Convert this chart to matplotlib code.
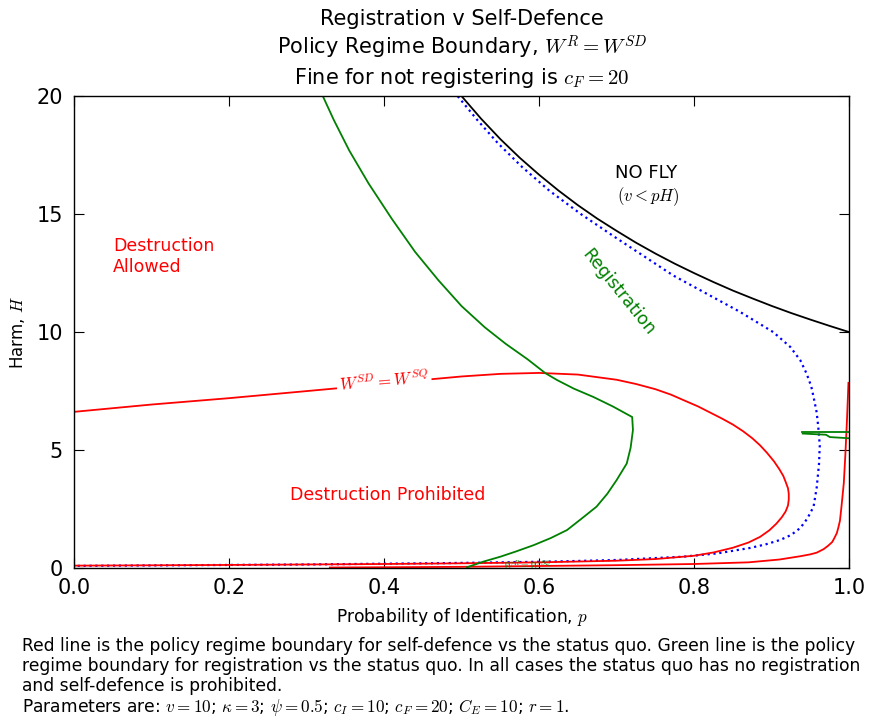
import matplotlib
matplotlib.use("Agg")
import matplotlib.pyplot as plt

plt.rcParams['mathtext.fontset'] = 'cm'
plt.rcParams['font.family'] = ['DejaVu Sans']

# No-fly boundary (v = pH)
p_nofly = [0.5, 0.525, 0.55, 0.575, 0.6, 0.625, 0.65, 0.675, 0.7, 0.725, 0.75,
           0.775, 0.8, 0.825, 0.85, 0.875, 0.9, 0.925, 0.95, 0.975, 1.0]
H_nofly = [20.0, 19.05, 18.18, 17.39, 16.67, 16.0, 15.38, 14.81, 14.29, 13.79, 13.33,
           12.9, 12.5, 12.12, 11.76, 11.43, 11.11, 10.81, 10.53, 10.26, 10.0]

# Registration vs self-defence boundary (W^R = W^SD)
p_rsd = [0.495, 0.52, 0.547, 0.578, 0.613, 0.654, 0.699, 0.730, 0.773, 0.816, 0.859,
         0.902, 0.924, 0.937, 0.945, 0.951, 0.954, 0.958, 0.960, 0.962, 0.961, 0.958,
         0.954, 0.946, 0.937, 0.925, 0.911, 0.892, 0.872, 0.83, 0.786, 0.70, 0.614,
         0.485, 0.3, 0.15, 0.0]
H_rsd = [20.0, 19.0, 18.0, 17.0, 16.0, 15.0, 14.0, 13.33, 12.4, 11.63, 10.86,
         10.0, 9.37, 8.8, 8.24, 7.7, 7.25, 6.6, 6.0, 5.2, 4.4, 3.4,
         2.6, 2.1, 1.7, 1.4, 1.19, 1.0, 0.85, 0.62, 0.48, 0.34, 0.27,
         0.21, 0.15, 0.12, 0.09]

# Self-defence vs status quo boundary (W^SD = W^SQ), upper branch
p_sd_upper = [0.0, 0.1, 0.2, 0.3, 0.4, 0.45, 0.5, 0.55, 0.6, 0.65, 0.7, 0.725, 0.75,
              0.77, 0.786, 0.805, 0.82, 0.835, 0.85, 0.863, 0.875, 0.885, 0.894, 0.903,
              0.91, 0.915, 0.918, 0.921, 0.922, 0.922, 0.921, 0.918, 0.913, 0.906,
              0.897, 0.885, 0.87, 0.85, 0.825, 0.8, 0.75, 0.7, 0.6, 0.5, 0.4, 0.2, 0.0]
H_sd_upper = [6.62, 6.93, 7.2, 7.5, 7.8, 7.97, 8.12, 8.23, 8.27, 8.2, 7.98, 7.8, 7.58,
              7.35, 7.12, 6.85, 6.6, 6.35, 6.08, 5.8, 5.5, 5.2, 4.88, 4.52,
              4.18, 3.9, 3.65, 3.38, 3.15, 2.9, 2.65, 2.4, 2.15, 1.88,
              1.6, 1.32, 1.08, 0.86, 0.66, 0.52, 0.38, 0.31, 0.24, 0.2, 0.17, 0.13, 0.1]

# Self-defence vs status quo boundary, lower branch
p_sd_lower = [0.33, 0.5, 0.7, 0.8, 0.87, 0.91, 0.937, 0.95, 0.958, 0.967, 0.973, 0.978,
              0.981, 0.984, 0.986, 0.988, 0.99, 0.993, 0.995, 0.997, 0.999]
H_sd_lower = [0.02, 0.05, 0.12, 0.17, 0.24, 0.36, 0.5, 0.58, 0.65, 0.8, 0.95, 1.1,
              1.28, 1.48, 1.72, 2.0, 2.6, 3.6, 4.8, 6.2, 7.85]

# Registration vs status quo boundary (W^R = W^SQ)
p_reg = [0.321, 0.335, 0.355, 0.38, 0.41, 0.44, 0.47, 0.50, 0.53, 0.557, 0.585,
         0.608, 0.623, 0.645, 0.67, 0.695, 0.72, 0.721, 0.718, 0.713, 0.70, 0.688,
         0.674, 0.655, 0.636, 0.615, 0.593, 0.57, 0.55, 0.528, 0.507]
H_reg = [20.0, 19.0, 17.7, 16.3, 14.8, 13.4, 12.2, 11.1, 10.2, 9.5, 8.85,
         8.26, 7.97, 7.6, 7.25, 6.85, 6.4, 5.85, 5.1, 4.43, 3.73, 3.15,
         2.6, 2.1, 1.61, 1.27, 0.97, 0.7, 0.48, 0.27, 0.03]
p_reg_a = [0.939, 1.0]
H_reg_a = [5.75, 5.75]
p_reg_b = [0.94, 0.97, 0.975, 1.0]
H_reg_b = [5.7, 5.65, 5.55, 5.5]

x_ticks = [0.0, 0.2, 0.4, 0.6, 0.8, 1.0]
y_ticks = [0, 5, 10, 15, 20]

fig = plt.figure(figsize=(8.71, 7.17), dpi=100)
ax = fig.add_axes([0.085, 0.2078, 0.89, 0.658])

lw = 1.3
ax.plot(p_nofly, H_nofly, color='black', lw=lw)
ax.plot(p_rsd, H_rsd, color='blue', lw=1.6, ls=':')
ax.plot(p_sd_upper, H_sd_upper, color='red', lw=lw)
ax.plot(p_sd_lower, H_sd_lower, color='red', lw=lw)
ax.plot(p_reg, H_reg, color='green', lw=lw)
ax.plot(p_reg_a, H_reg_a, color='green', lw=lw)
ax.plot(p_reg_b, H_reg_b, color='green', lw=lw)

ax.text(0.40, 7.88, r'$W^{SD}=W^{SQ}$', color='red', fontsize=12, rotation=5,
        ha='center', va='center',
        bbox=dict(boxstyle='square,pad=0.15', fc='white', ec='none'))
ax.text(0.585, 0.12, r'$W^{R}=W^{SQ}$', color='green', fontsize=7,
        ha='center', va='center', clip_on=True)

ax.text(0.05, 13.22, 'Destruction\nAllowed', color='red', fontsize=12.5,
        ha='left', va='center', linespacing=1.2)
ax.text(0.405, 3.1, 'Destruction Prohibited', color='red', fontsize=12.5,
        ha='center', va='center')
ax.text(0.738, 16.76, 'NO FLY', color='black', fontsize=13, ha='center', va='center')
ax.text(0.741, 15.75, r'$(v<pH)$', color='black', fontsize=12, ha='center', va='center')
ax.text(0.702, 11.68, 'Registration', color='green', fontsize=12.5, rotation=-51,
        ha='center', va='center', rotation_mode='anchor')

ax.set_xlim(0, 1)
ax.set_ylim(0, 20)
ax.set_xticks(x_ticks)
ax.set_yticks(y_ticks)
ax.tick_params(direction='in', top=True, right=True, length=7, width=0.8,
               labelsize=15)
ax.tick_params(axis='x', pad=7)
ax.tick_params(axis='y', pad=8)
for s in ax.spines.values():
    s.set_linewidth(1.0)

ax.set_xlabel(r'Probability of Identification, $p$', fontsize=12.3, labelpad=6)
ax.set_ylabel(r'Harm, $H$', fontsize=12, labelpad=7)
ax.set_title('Registration v Self-Defence\nPolicy Regime Boundary, $W^R = W^{SD}$\n'
             'Fine for not registering is $c_F = 20$', fontsize=15, pad=9,
             linespacing=1.22)

caption = ('Red line is the policy regime boundary for self-defence vs the status quo. '
           'Green line is the policy\n'
           'regime boundary for registration vs the status quo. In all cases the status '
           'quo has no registration\n'
           'and self-defence is prohibited.\n'
           r'Parameters are: $v=10$; $\kappa=3$; $\psi=0.5$; $c_I=10$; $c_F=20$; '
           r'$C_E=10$; $r=1$.')
fig.text(0.025, 0.112, caption, fontsize=12.3, ha='left', va='top', linespacing=1.15)

fig.savefig('out.png', dpi=100)
